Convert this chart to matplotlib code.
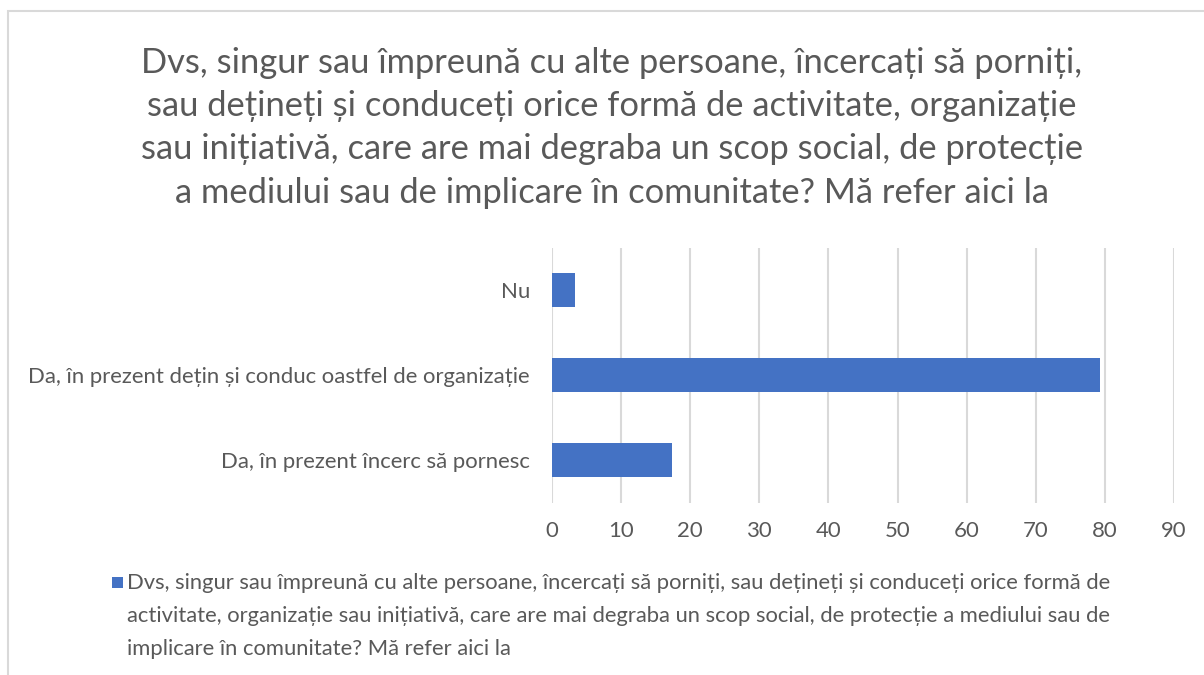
import matplotlib
matplotlib.use('Agg')
import matplotlib.pyplot as plt
from matplotlib.patches import Rectangle

plt.rcParams['font.family'] = ['Lato', 'DejaVu Sans']

# date
categorii = ['Da, în prezent încerc să pornesc',
             'Da, în prezent dețin și conduc oastfel de organizație',
             'Nu']
valori = [17.3, 79.3, 3.4]
ticks_x = [0, 10, 20, 30, 40, 50, 60, 70, 80, 90]

titlu = ('Dvs, singur sau împreună cu alte persoane, încercați să porniți,\n'
         'sau dețineți și conduceți orice formă de activitate, organizație\n'
         'sau inițiativă, care are mai degraba un scop social, de protecție\n'
         'a mediului sau de implicare în comunitate? Mă refer aici la')
legenda = ('Dvs, singur sau împreună cu alte persoane, încercați să porniți, sau dețineți și conduceți orice formă de\n'
           'activitate, organizație sau inițiativă, care are mai degraba un scop social, de protecție a mediului sau de\n'
           'implicare în comunitate? Mă refer aici la')

culoare_bara = '#4472C4'
gri_text = '#595959'
gri_linie = '#D9D9D9'

W, H = 1204, 675
fig = plt.figure(figsize=(W / 100, H / 100), dpi=100)

# chenarul graficului
fig.patches.append(Rectangle((8 / W, -0.1), 1.2, 1 - 11 / H + 0.1,
                             transform=fig.transFigure, fill=False,
                             edgecolor=gri_linie, linewidth=1.5))

ax = fig.add_axes([552 / W, 1 - 502.5 / H, (1174 - 552) / W, 255 / H])
ax.barh(categorii, valori, height=0.4, color=culoare_bara, zorder=3)
ax.set_xlim(0, 90)
ax.set_ylim(-0.5, 2.5)
ax.set_xticks(ticks_x)
ax.grid(axis='x', color=gri_linie, linewidth=1.5, zorder=0)
for s in ax.spines.values():
    s.set_visible(False)
ax.tick_params(length=0, labelcolor=gri_text, labelsize=15.9)
ax.tick_params(axis='x', pad=13)
ax.tick_params(axis='y', pad=16)

fig.text(612 / W, 1 - 47 / H, titlu, ha='center', va='top',
         fontsize=24.8, color=gri_text, linespacing=1.43)

fig.patches.append(Rectangle((112 / W, 1 - 588 / H), 11 / W, 11 / H,
                             transform=fig.transFigure, facecolor=culoare_bara,
                             edgecolor='none'))
fig.text(127 / W, 1 - 573 / H, legenda, ha='left', va='top',
         fontsize=15.85, color=gri_text, linespacing=1.8)

fig.savefig('out.png', dpi=100)
